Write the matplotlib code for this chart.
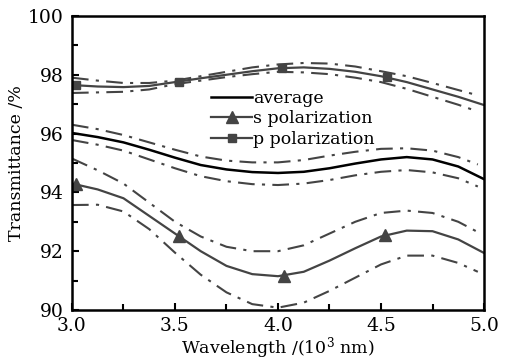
import matplotlib as mpl
mpl.use('Agg')
import numpy as np
import matplotlib.pyplot as plt
from matplotlib.ticker import MultipleLocator

plt.rcParams['font.family'] = ['DejaVu Serif']
plt.rcParams['mathtext.fontset'] = 'dejavuserif'

# wavelength (10^3 nm)
wl = [3.0, 3.125, 3.25, 3.375, 3.5, 3.625, 3.75, 3.875, 4.0,
      4.125, 4.25, 4.375, 4.5, 4.625, 4.75, 4.875, 5.0]
# the bound curves stop a bit before 5.0
wl_b = wl[:-1] + [4.97]

avg = [96.02, 95.88, 95.7, 95.45, 95.18, 94.93, 94.78, 94.69, 94.66,
       94.7, 94.82, 94.98, 95.12, 95.2, 95.12, 94.88, 94.45]
avg_hi = [96.3, 96.15, 95.95, 95.7, 95.45, 95.22, 95.08, 95.02, 95.02,
          95.1, 95.25, 95.38, 95.48, 95.5, 95.42, 95.2, 94.95]
avg_lo = [95.78, 95.62, 95.42, 95.12, 94.82, 94.55, 94.38, 94.28, 94.25,
          94.3, 94.42, 94.58, 94.7, 94.76, 94.68, 94.48, 94.2]

s_pol = [94.3, 94.1, 93.8, 93.2, 92.6, 92.0, 91.5, 91.22, 91.15,
         91.3, 91.68, 92.1, 92.5, 92.7, 92.68, 92.4, 91.94]
s_hi = [95.15, 94.75, 94.3, 93.65, 93.0, 92.5, 92.15, 92.0, 92.0,
        92.2, 92.6, 93.0, 93.3, 93.38, 93.3, 93.0, 92.65]
s_lo = [93.57, 93.58, 93.35, 92.75, 91.95, 91.2, 90.6, 90.2, 90.08,
        90.25, 90.65, 91.1, 91.55, 91.85, 91.85, 91.6, 91.3]

p_pol = [97.65, 97.6, 97.58, 97.62, 97.75, 97.88, 98.0, 98.12, 98.22,
         98.25, 98.2, 98.1, 97.95, 97.75, 97.5, 97.25, 96.97]
p_hi = [97.9, 97.8, 97.72, 97.72, 97.8, 97.95, 98.1, 98.25, 98.35,
        98.4, 98.38, 98.28, 98.12, 97.95, 97.72, 97.48, 97.3]
p_lo = [97.38, 97.4, 97.42, 97.5, 97.68, 97.8, 97.92, 98.02, 98.1,
        98.08, 98.02, 97.9, 97.75, 97.52, 97.25, 96.98, 96.75]

# marker positions
s_mx = [3.02, 3.52, 4.03, 4.52]
s_my = [94.29, 92.52, 91.15, 92.55]
p_mx = [3.02, 3.52, 4.02, 4.53]
p_my = [97.65, 97.76, 98.22, 97.93]

gray = '#444444'
dd = (0, (8, 3.5, 1.5, 3.5))

fig = plt.figure(figsize=(5.16, 3.62), dpi=100)
ax = fig.add_axes([0.1395, 0.1436, 0.7985, 0.8124])

for lo, hi in [(avg_lo, avg_hi), (s_lo, s_hi), (p_lo, p_hi)]:
    ax.plot(wl_b, hi, color=gray, lw=1.5, linestyle=dd)
    ax.plot(wl_b, lo, color=gray, lw=1.5, linestyle=dd)

ax.plot(wl, avg, color='black', lw=1.8)
ax.plot(wl, s_pol, color=gray, lw=1.6)
ax.plot(wl, p_pol, color=gray, lw=1.6)
ax.plot(s_mx, s_my, '^', color=gray, ms=8, ls='none')
ax.plot(p_mx, p_my, 's', color=gray, ms=6, ls='none')

# legend handles
h_avg, = ax.plot([], [], color='black', lw=1.8)
h_s, = ax.plot([], [], color=gray, lw=1.6, marker='^', ms=8)
h_p, = ax.plot([], [], color=gray, lw=1.6, marker='s', ms=6)
ax.legend([h_avg, h_s, h_p], ['average', 's polarization', 'p polarization'],
          loc='upper left', bbox_to_anchor=(0.32, 0.772), frameon=False,
          fontsize=12.5, handlelength=2.4, handletextpad=0.05,
          labelspacing=0.2, borderaxespad=0)

ax.set_xlim(3.0, 5.0)
ax.set_ylim(90, 100)
ax.xaxis.set_major_locator(MultipleLocator(0.5))
ax.xaxis.set_minor_locator(MultipleLocator(0.25))
ax.yaxis.set_major_locator(MultipleLocator(2))
ax.yaxis.set_minor_locator(MultipleLocator(1))
ax.xaxis.set_major_formatter(mpl.ticker.FormatStrFormatter('%.1f'))
ax.tick_params(which='both', direction='in', top=False, right=False,
               labelsize=13.5, width=1.5)
ax.tick_params(axis='x', pad=5)
ax.tick_params(axis='y', pad=6)
ax.tick_params(which='major', length=5)
ax.tick_params(which='minor', length=4)
for sp in ax.spines.values():
    sp.set_linewidth(1.8)

ax.set_xlabel('Wavelength /(10$^3$ nm)', fontsize=12.5, labelpad=0)
ax.set_ylabel('Transmittance /%', fontsize=12.5, labelpad=2)

fig.savefig('out.png', dpi=100)
